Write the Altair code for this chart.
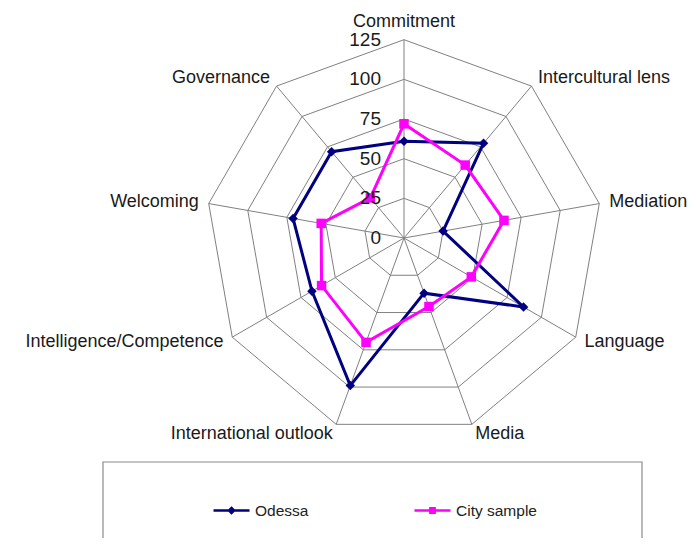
import altair as alt
import pandas as pd

# ---------------- data ----------------
categories = ["Commitment", "Intercultural lens", "Mediation", "Language", "Media",
              "International outlook", "Intelligence/Competence", "Welcoming", "Governance"]
odessa = [61, 78, 25, 87, 37, 99, 67, 71, 71]
city_sample = [72, 60, 64, 49, 46, 70, 60, 53, 33]
series_names = ["Odessa", "City sample"]
series_colors = ["#000080", "#FF00FF"]
series_markers = ["diamond", "square"]
ring_levels = [25, 50, 75, 100, 125]
tick_values = [0, 25, 50, 75, 100, 125]
r_max = 125

N = len(categories)

# ---------------- tables ----------------
rows = []
for name, vals in zip(series_names, [odessa, city_sample]):
    for i, v in enumerate(vals + vals[:1]):
        rows.append({"series": name, "idx": i, "value": v})
series_df = pd.DataFrame(rows)

grid_df = pd.DataFrame([{"level": lv, "idx": i} for lv in ring_levels for i in range(N + 1)])
spoke_df = pd.DataFrame({"idx": list(range(N))})
label_df = pd.DataFrame({"category": categories, "idx": list(range(N))})
tick_df = pd.DataFrame({"tick": tick_values})

# ---------------- layout ----------------
W, H = 680, 530
K = 1.5864              # pixels per unit
CX, CY = 396, 230       # centre in chart pixels
x_dom = [-CX / K, (W - CX) / K]
y_dom = [-(H - CY) / K, CY / K]
xs = alt.Scale(domain=x_dom, nice=False, zero=False)
ys = alt.Scale(domain=y_dom, nice=False, zero=False)
X = lambda f: alt.X(f, type="quantitative", scale=xs, axis=None)
Y = lambda f: alt.Y(f, type="quantitative", scale=ys, axis=None)

ang = f"(datum.idx * 2 * PI / {N})"
FONT = "Liberation Sans"
color_scale = alt.Scale(domain=series_names, range=series_colors)

grid = alt.Chart(grid_df).transform_calculate(
    px=f"datum.level * sin({ang})", py=f"datum.level * cos({ang})"
).mark_line(color="#808080", strokeWidth=1).encode(
    x=X("px"), y=Y("py"), detail="level:N", order="idx:Q")

spokes = alt.Chart(spoke_df).transform_calculate(
    x0="0", y0="0", x1=f"{r_max} * sin({ang})", y1=f"{r_max} * cos({ang})"
).mark_rule(color="#808080", strokeWidth=1).encode(
    x=X("x0"), y=Y("y0"), x2="x1:Q", y2="y1:Q")

pos = alt.Chart(series_df).transform_calculate(
    px=f"datum.value * sin({ang})", py=f"datum.value * cos({ang})")

# legend: short line with marker, one symbol per entry
legend_paths = ["M-1,0L1,0M0,-0.14L0.14,0L0,0.14L-0.14,0Z",
                "M-1,0L1,0M-0.12,-0.12L0.12,-0.12L0.12,0.12L-0.12,0.12Z"]
leg = alt.Legend(
    orient="none", legendX=204, legendY=483, direction="horizontal", columns=2,
    columnPadding=100, title=None, padding=0, labelFont=FONT, labelFontSize=15.5,
    labelColor="#222222", labelOffset=4, symbolSize=1296, symbolOpacity=1,
    symbolStrokeWidth=2.5)

# legend-only layer (draws no marks); placed first so its legend settings win
legend_layer = pos.transform_filter("false").mark_point(filled=False).encode(
    x=X("px"), y=Y("py"),
    color=alt.Color("series:N", scale=color_scale, legend=leg),
    shape=alt.Shape("series:N", scale=alt.Scale(domain=series_names, range=legend_paths), legend=leg))

lines = pos.mark_line(strokeWidth=3).encode(
    x=X("px"), y=Y("py"),
    color=alt.Color("series:N", scale=color_scale),
    order="idx:Q")

point_layers = []
for name, marker in zip(series_names, series_markers):
    point_layers.append(
        pos.transform_filter(f"datum.series === '{name}' && datum.idx < {N}")
        .mark_point(filled=True, opacity=1, size=90, shape=marker)
        .encode(x=X("px"), y=Y("py"),
                color=alt.Color("series:N", scale=color_scale)))

r_lab = r_max + 10 / K
lab_base = alt.Chart(label_df).transform_calculate(
    px=f"{r_lab} * sin({ang})", py=f"{r_lab} * cos({ang})")
txt = dict(font=FONT, fontSize=18, color="#1a1a1a")
lab_top = lab_base.transform_filter("datum.idx == 0").mark_text(
    align="center", baseline="alphabetic", dy=-3, **txt).encode(x=X("px"), y=Y("py"), text="category:N")
lab_right = lab_base.transform_filter(f"datum.idx > 0 && datum.idx <= {N // 2}").mark_text(
    align="left", baseline="middle", **txt).encode(x=X("px"), y=Y("py"), text="category:N")
lab_left = lab_base.transform_filter(f"datum.idx > {N // 2}").mark_text(
    align="right", baseline="middle", **txt).encode(x=X("px"), y=Y("py"), text="category:N")

ticks = alt.Chart(tick_df).transform_calculate(x0="0").mark_text(
    align="right", baseline="middle", dx=-23, font=FONT, fontSize=19, color="#1a1a1a").encode(
    x=X("x0"), y=Y("tick"), text="tick:Q")

legend_box = alt.Chart(alt.Data(values=[{"a": 1}])).mark_rect(
    fillOpacity=0, stroke="#8a8a8a", strokeWidth=1.2).encode(
    x=alt.value(95), x2=alt.value(634), y=alt.value(454), y2=alt.value(640))

chart = alt.layer(legend_layer, legend_box, grid, spokes, lines, *point_layers,
                  lab_top, lab_right, lab_left, ticks).properties(
    width=W, height=H, padding=0, autosize=alt.AutoSizeParams(type="none")
).configure_view(stroke=None)

chart.save("out.html", embed_options={"renderer": "svg", "actions": False})
